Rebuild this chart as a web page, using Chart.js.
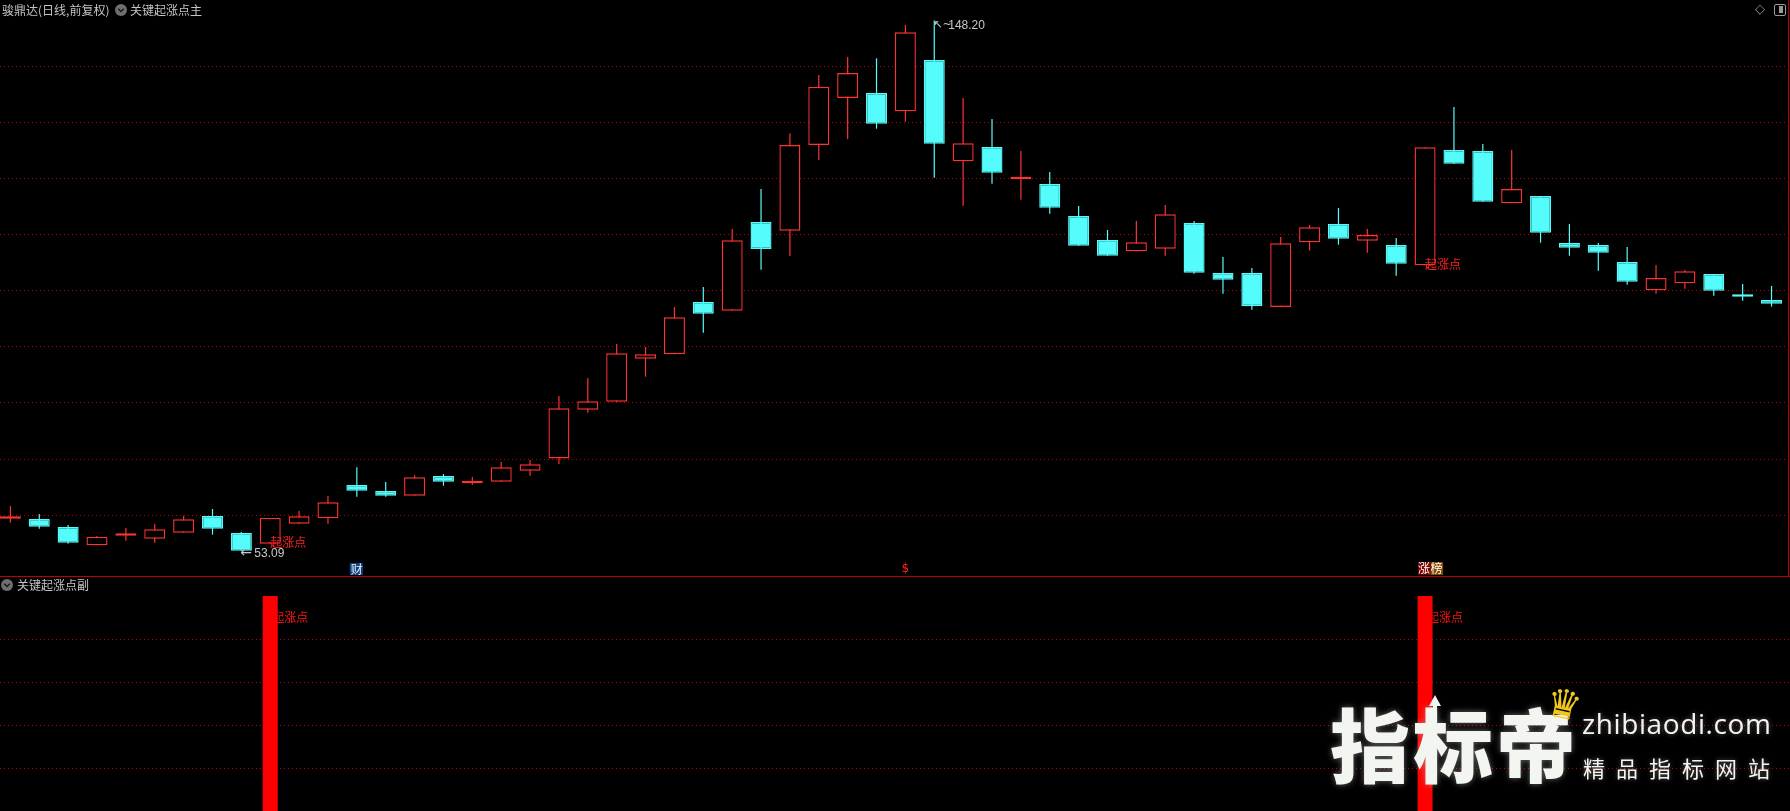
<!DOCTYPE html>
<html><head><meta charset="utf-8">
<script src="https://cdn.jsdelivr.net/npm/chart.js@4.4.1/dist/chart.umd.min.js"></script>
<style>
html,body{margin:0;padding:0;background:#000;width:1790px;height:811px;overflow:hidden;}
canvas{position:absolute;left:0;}
.t{position:absolute;font-family:"Noto Sans CJK SC","Noto Sans",sans-serif;font-size:12px;color:#c4c4c4;line-height:12px;white-space:nowrap;}
.ic{position:absolute;width:12px;height:12px;}
</style></head>
<body>
<canvas id="main" width="1790" height="576" style="top:0;width:1790px;height:576px"></canvas>
<canvas id="sub" width="1790" height="234" style="top:577px;width:1790px;height:234px"></canvas>
<div style="position:absolute;left:0;top:576px;width:1790px;height:1px;background:#c00000"></div>
<div style="position:absolute;left:1788px;top:0;width:1px;height:576px;background:#c00000"></div>

<div class="t" style="left:2px;top:4px">骏鼎达(日线,前复权)</div>
<svg class="ic" style="left:115px;top:4px" viewBox="0 0 12 12"><circle cx="6" cy="6" r="6" fill="#6f6f6f"/><polyline points="3.2,4.8 6,7.6 8.8,4.8" fill="none" stroke="#1a1a1a" stroke-width="1.4"/></svg>
<div class="t" style="left:130px;top:4px">关键起涨点主</div>
<div class="t" style="left:1755px;top:3px;color:#9a9a9a;font-family:'DejaVu Sans';font-size:13px;">◇</div>
<div style="position:absolute;left:1774px;top:4px;width:10px;height:10px;border:1px solid #9a9a9a;border-radius:2px;"></div>
<div style="position:absolute;left:1779px;top:6px;width:4px;height:7px;background:#9a9a9a;"></div>

<svg class="ic" style="left:1px;top:579px" viewBox="0 0 12 12"><circle cx="6" cy="6" r="6" fill="#6f6f6f"/><polyline points="3.2,4.8 6,7.6 8.8,4.8" fill="none" stroke="#1a1a1a" stroke-width="1.4"/></svg>
<div class="t" style="left:17px;top:579px">关键起涨点副</div>

<!-- watermark -->
<div style="position:absolute;left:1330px;top:701px;font-family:'Noto Sans CJK SC';font-weight:900;font-size:80px;line-height:80px;letter-spacing:3px;color:#f3f5f1;text-shadow:0 0 6px rgba(190,190,190,0.55);white-space:nowrap;">指标帝</div>
<div style="position:absolute;left:1429px;top:695px;width:0;height:0;border-left:6px solid transparent;border-right:6px solid transparent;border-bottom:11px solid #f3f5f1;"></div>
<div style="position:absolute;left:1433px;top:705px;width:4px;height:22px;background:#f3f5f1;"></div>
<div style="position:absolute;left:1546px;top:684px;font-family:'DejaVu Sans';font-size:40px;line-height:40px;color:#f2c81e;transform:rotate(12deg);">♛</div>
<div style="position:absolute;left:1582px;top:708px;font-family:'Open Sans','Noto Sans',sans-serif;font-size:28px;line-height:30px;letter-spacing:0.6px;color:#f3f5f1;text-shadow:0 0 5px rgba(190,190,190,0.5);white-space:nowrap;">zhibiaodi.com</div>
<div style="position:absolute;left:1583px;top:754px;font-family:'Noto Sans CJK SC';font-size:22px;line-height:26px;letter-spacing:11px;color:#f3f5f1;text-shadow:0 0 5px rgba(190,190,190,0.5);white-space:nowrap;">精品指标网站</div>

<script>
// ---- data ----
const opens  = [58.80,58.78,57.34,54.06,55.75,55.25,56.32,59.32,56.27,54.35,57.94,58.90,64.88,63.80,62.96,66.49,65.20,65.47,67.44,69.63,78.38,79.82,87.53,88.32,97.70,96.14,112.04,110.48,125.85,134.28,135.18,131.90,141.10,122.93,125.50,119.73,118.86,113.12,108.82,106.79,107.26,111.87,102.90,102.90,96.80,108.40,111.69,108.69,107.92,104.28,124.96,124.78,115.40,116.71,108.28,107.92,104.87,99.79,101.05,102.72,98.95,98.06];
const highs  = [61.11,59.67,57.70,55.73,57.16,57.88,59.37,60.57,56.45,58.96,60.21,62.90,68.05,65.41,66.62,66.85,66.31,69.00,69.36,80.84,84.07,90.16,89.63,96.80,100.39,110.79,117.96,127.90,138.41,141.64,141.40,147.38,148.20,134.28,130.52,124.78,121.01,114.91,110.61,112.22,115.09,112.22,105.77,103.79,109.35,111.51,114.56,110.79,109.17,125.44,132.67,126.03,124.96,116.71,111.69,108.28,107.56,104.33,103.44,102.72,100.92,100.57];
const lows   = [58.11,57.04,54.35,54.06,54.89,54.47,56.32,55.96,53.09,54.35,57.94,57.94,62.78,62.78,62.96,64.75,64.88,65.47,66.54,68.64,77.84,79.82,84.30,88.32,92.19,96.14,103.49,105.95,123.16,126.93,128.78,130.03,119.99,114.97,118.91,116.04,113.53,107.79,106.00,106.79,106.00,102.77,99.19,96.32,96.80,106.90,107.97,106.54,102.41,104.28,122.50,115.69,115.40,108.33,106.00,103.31,100.80,99.19,100.08,98.83,97.93,96.85];
const closes = [58.86,57.40,54.53,55.55,55.81,56.93,58.72,57.04,53.09,58.96,59.26,61.77,63.85,62.96,66.26,65.47,65.26,68.05,68.59,78.63,79.89,88.50,88.32,94.95,95.60,108.76,107.20,125.85,136.29,138.77,129.67,146.07,126.09,126.16,120.89,119.79,114.61,107.79,106.00,108.40,113.43,102.95,101.70,96.93,108.22,111.09,109.05,109.71,104.57,125.44,122.50,115.69,117.96,110.13,107.44,106.54,101.34,102.00,103.20,99.72,98.65,97.39];
// sub-panel "起涨点" signal (1 = signal bar)
const signal = [0,0,0,0,0,0,0,0,0,1,0,0,0,0,0,0,0,0,0,0,0,0,0,0,0,0,0,0,0,0,0,0,0,0,0,0,0,0,0,0,0,0,0,0,0,0,0,0,0,1,0,0,0,0,0,0,0,0,0,0,0,0];
// event markers shown at the bottom of the main panel
const markerIdx  = [12, 31, 49];
const markerText = ['财', '$', '涨榜'];
// grid levels (no labels in the reference)
const mainGridLevels = [59.44,69.49,79.71,89.75,99.79,109.84,119.88,129.93,139.97];
const subGridLevels  = [0.2,0.4,0.6,0.8];
const signalLabel = '起涨点';

// ---- styling / layout ----
const RED = '#ff3232', CYAN = '#54fcfc', GRID = '#c00000';
const X_MIN = -0.36, X_MAX = 61.64;
const Y_MIN = 48.55, Y_MAX = 151.86;
const isUp = i => closes[i] >= opens[i];

const mainAnnot = {
  id: 'mainAnnot',
  afterDatasetsDraw(chart) {
    const {ctx, scales: {x, y}, chartArea} = chart;
    ctx.save();
    ctx.textBaseline = 'middle';
    ctx.textAlign = 'left';
    ctx.font = '12px "Noto Sans CJK SC"';
    ctx.fillStyle = '#ff1e1e';
    signal.forEach((v, i) => {
      if (v > 0) ctx.fillText(signalLabel, x.getPixelForValue(i), y.getPixelForValue(lows[i]) - 1);
    });
    let iMin = 0, iMax = 0;
    lows.forEach((v, i) => { if (v < lows[iMin]) iMin = i; });
    highs.forEach((v, i) => { if (v > highs[iMax]) iMax = i; });
    ctx.fillStyle = '#c8c8c8';
    const lx = x.getPixelForValue(iMin), ly = y.getPixelForValue(lows[iMin]) + 3;
    ctx.font = '14px "DejaVu Sans"';
    ctx.fillText('←', lx - 1, ly);
    ctx.font = '12px "Liberation Sans"';
    ctx.fillText(lows[iMin].toFixed(2), lx + 13, ly);
    const hx = x.getPixelForValue(iMax), hy = y.getPixelForValue(highs[iMax]) + 5;
    ctx.font = '11px "DejaVu Sans"';
    ctx.fillText('↖~', hx - 1, hy);
    ctx.font = '12px "Liberation Sans"';
    ctx.fillText(highs[iMax].toFixed(2), hx + 14, hy);
    ctx.font = '12px "Noto Sans CJK SC"';
    const mb = chartArea.bottom - 13;
    markerIdx.forEach((idx, k) => {
      const cx = x.getPixelForValue(idx);
      const txt = markerText[k];
      if (txt === '财') {
        ctx.fillStyle = '#0f3f7c'; ctx.fillRect(cx - 7, mb, 13, 12);
        ctx.fillStyle = '#e8eeff'; ctx.fillText(txt, cx - 6, mb + 6);
      } else if (txt === '$') {
        ctx.fillStyle = '#ff2020'; ctx.font = '12px "DejaVu Sans"';
        ctx.fillText(txt, cx - 4, mb + 6);
        ctx.font = '12px "Noto Sans CJK SC"';
      } else {
        const chars = [...txt];
        const bgs = ['#7c0000', '#8a4800'];
        chars.forEach((c, j) => {
          ctx.fillStyle = bgs[j % 2]; ctx.fillRect(cx - 7 + j * 12.5, mb - 1, 12.5, 13);
          ctx.fillStyle = '#ffffff'; ctx.fillText(c, cx - 7 + j * 12.5, mb + 5.5);
        });
      }
    });
    ctx.restore();
  }
};

const subAnnot = {
  id: 'subAnnot',
  beforeDatasetsDraw(chart) {
    const {ctx, scales: {x, y}} = chart;
    ctx.save();
    ctx.font = '12px "Noto Sans CJK SC"';
    ctx.fillStyle = '#ff1010';
    ctx.textBaseline = 'middle';
    signal.forEach((v, i) => {
      if (v > 0) ctx.fillText(signalLabel, x.getPixelForValue(i) + 2, y.getPixelForValue(0.9));
    });
    ctx.restore();
  }
};

const gridY = (min, max, levels) => ({
  type: 'linear', min, max, position: 'left',
  ticks: {display: false},
  afterBuildTicks: s => { s.ticks = levels.map(v => ({value: v})); },
  grid: {color: GRID, lineWidth: 1, drawTicks: false},
  border: {display: false, dash: [1, 3]}
});
const xAxis = {type: 'linear', min: X_MIN, max: X_MAX, offset: false, display: false};
const common = {
  responsive: false, animation: false, devicePixelRatio: 1,
  layout: {padding: 0},
  plugins: {legend: {display: false}, tooltip: {enabled: false}},
  events: []
};

new Chart(document.getElementById('main'), {
  type: 'bar',
  data: {
    datasets: [
      {
        label: 'wick',
        data: opens.map((o, i) => ({x: i, y: [lows[i], highs[i]]})),
        backgroundColor: c => isUp(c.dataIndex) ? RED : CYAN,
        borderWidth: 0, barThickness: 1.2, grouped: false, order: 2, inflateAmount: 0
      },
      {
        label: 'body',
        data: opens.map((o, i) => ({x: i, y: [o, closes[i]]})),
        backgroundColor: c => isUp(c.dataIndex) ? '#000000' : CYAN,
        borderColor: c => isUp(c.dataIndex) ? RED : CYAN,
        borderWidth: 1.4, borderSkipped: false, minBarLength: 2.5,
        barThickness: 21, grouped: false, order: 1, inflateAmount: 0
      }
    ]
  },
  options: Object.assign({}, common, {
    scales: {x: xAxis, y: gridY(Y_MIN, Y_MAX, mainGridLevels)}
  }),
  plugins: [mainAnnot]
});

new Chart(document.getElementById('sub'), {
  type: 'bar',
  data: {
    datasets: [{
      label: 'signal',
      data: signal.map((v, i) => ({x: i, y: v > 0 ? v : null})),
      backgroundColor: '#ff0000', borderWidth: 0,
      barThickness: 15, grouped: false, inflateAmount: 0
    }]
  },
  options: Object.assign({}, common, {
    scales: {x: xAxis, y: gridY(0, 1.0884, subGridLevels)}
  }),
  plugins: [subAnnot]
});
</script>
</body></html>
